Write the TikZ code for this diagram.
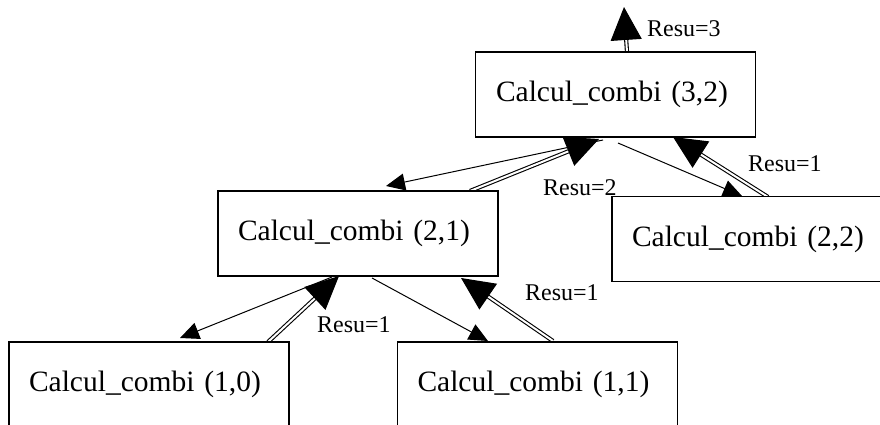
\documentclass[tikz,border=0pt]{standalone}
\usepackage{fontspec}
\setmainfont{Liberation Serif}
\usetikzlibrary{arrows.meta,backgrounds}
\begin{document}
\begin{tikzpicture}[x=1pt,y=-1pt,
  box/.style={draw,line width=1.2pt,fill=white,minimum width=280pt,minimum height=85pt,inner ysep=0pt,inner xsep=20pt,text width=240pt,font=\fontsize{29.5}{34}\selectfont},
  lab/.style={anchor=base west,inner sep=0pt,font=\fontsize{24}{28}\selectfont},
  call/.style={line width=1pt,-{Triangle[length=19pt,width=17pt]}},
  ret/.style={double,line width=1.1pt,double distance=2pt,-{Triangle[length=33pt,width=31pt]}}]
\useasboundingbox (0,0) rectangle (880,425);
% boxes
\node[box,text width=239pt] (b32) at (615.5,94.5) {Calcul\textunderscore combi (3,2)};
\node[box] (b21) at (358,233.5) {Calcul\textunderscore combi (2,1)};
\node[box] (b22) at (752,239) {Calcul\textunderscore combi (2,2)};
\node[box] (b10) at (149,384.5) {Calcul\textunderscore combi (1,0)};
\node[box] (b11) at (537.5,384.5) {Calcul\textunderscore combi (1,1)};
% labels
\node[lab] (l3) at (647,37) {Resu=3};
\node[lab] (l2) at (543,195) {Resu=2};
\node[lab] (l22) at (748,171) {Resu=1};
\node[lab] (l10) at (317,332) {Resu=1};
\node[lab] (l11) at (525,300) {Resu=1};
% connector end points
\coordinate (top) at (624,7);
\coordinate (r32a) at (627,52);
\coordinate (c21s) at (603,140);
\coordinate (c21e) at (386,186);
\coordinate (r21s) at (470,191);
\coordinate (r21e) at (599,139);
\coordinate (c22s) at (618,143);
\coordinate (c22e) at (742,196);
\coordinate (r22s) at (768,197);
\coordinate (r22e) at (673,137);
\coordinate (c10s) at (332,277);
\coordinate (c10e) at (180,338);
\coordinate (r10s) at (268,342);
\coordinate (r10e) at (339,276);
\coordinate (c11s) at (372,278);
\coordinate (c11e) at (488,341);
\coordinate (r11s) at (553,341);
\coordinate (r11e) at (461,278);
\begin{pgfonlayer}{background}
\draw[ret] (r32a) -- (top);
\draw[call] (c21s) -- (c21e);
\draw[ret] (r21s) -- (r21e);
\draw[call] (c22s) -- (c22e);
\draw[ret] (r22s) -- (r22e);
\draw[call] (c10s) -- (c10e);
\draw[ret] (r10s) -- (r10e);
\draw[call] (c11s) -- (c11e);
\draw[ret] (r11s) -- (r11e);
\end{pgfonlayer}
\end{tikzpicture}
\end{document}
